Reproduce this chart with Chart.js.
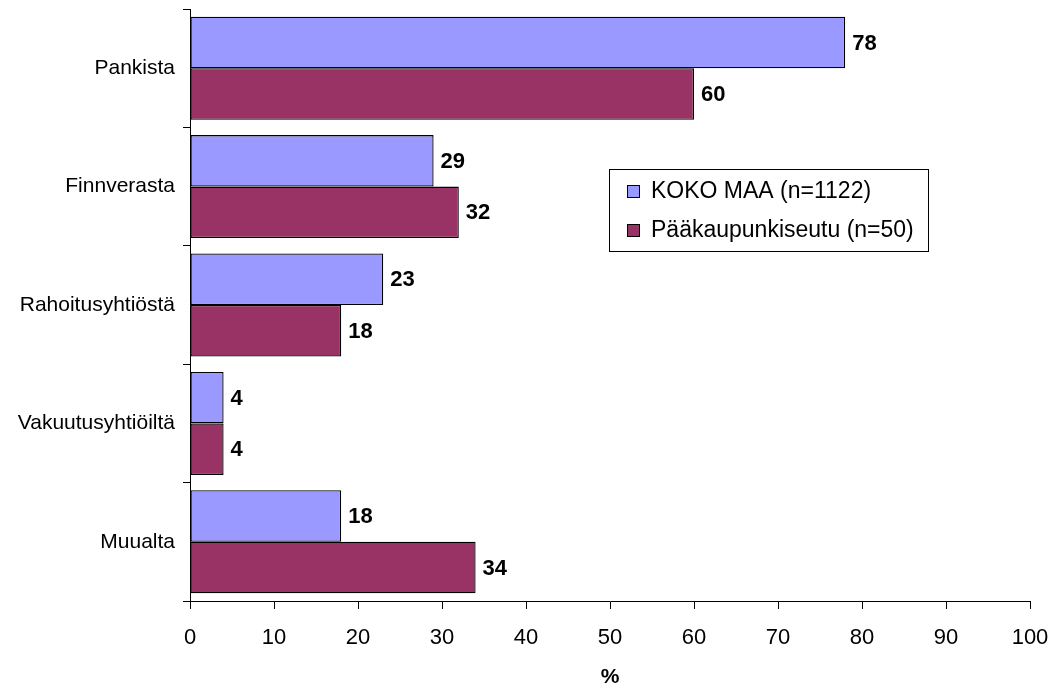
<!DOCTYPE html>
<html>
<head>
<meta charset="utf-8">
<script src="https://cdn.jsdelivr.net/npm/chart.js@4"></script>
<style>
  html, body { margin: 0; padding: 0; background: #fff; }
  #wrap { width: 1059px; height: 694px; }
</style>
</head>
<body>
<div id="wrap"><canvas id="chart"></canvas></div>
<script>
const categories = ["Pankista", "Finnverasta", "Rahoitusyhtiöstä", "Vakuutusyhtiöiltä", "Muualta"];
const kokoMaa = [78, 29, 23, 4, 18];
const paakaupunkiseutu = [60, 32, 18, 4, 34];
const seriesLabels = ["KOKO MAA (n=1122)", "Pääkaupunkiseutu (n=50)"];
const xTicks = [0, 10, 20, 30, 40, 50, 60, 70, 80, 90, 100];

const FONT = "Arial, 'Liberation Sans', sans-serif";

// numbers at the end of each bar
const valueLabels = {
  id: "valueLabels",
  afterDatasetsDraw(chart) {
    const ctx = chart.ctx;
    ctx.save();
    ctx.font = "bold 22px " + FONT;
    ctx.fillStyle = "#000";
    ctx.textAlign = "left";
    ctx.textBaseline = "middle";
    chart.data.datasets.forEach((ds, i) => {
      chart.getDatasetMeta(i).data.forEach((bar, j) => {
        ctx.fillText(ds.data[j], bar.x + 7, bar.y + 1);
      });
    });
    ctx.restore();
  }
};

// legend box inside the plot
const boxLegend = {
  id: "boxLegend",
  afterDraw(chart) {
    const ctx = chart.ctx;
    const x = 609, y = 169, w = 319, h = 82;
    ctx.save();
    ctx.fillStyle = "#fff";
    ctx.fillRect(x, y, w, h);
    ctx.strokeStyle = "#000";
    ctx.lineWidth = 1;
    ctx.strokeRect(x + 0.5, y + 0.5, w, h);
    ctx.font = "23px " + FONT;
    ctx.textBaseline = "middle";
    chart.data.datasets.forEach((ds, i) => {
      const cy = y + 22 + i * 39;
      ctx.fillStyle = ds.backgroundColor;
      ctx.fillRect(x + 18, cy - 6, 12, 12);
      ctx.strokeRect(x + 18.5, cy - 5.5, 12, 12);
      ctx.fillStyle = "#000";
      ctx.fillText(ds.label, x + 42, cy + 1);
    });
    ctx.restore();
  }
};

new Chart(document.getElementById("chart"), {
  type: "bar",
  data: {
    labels: categories,
    datasets: [
      {
        label: seriesLabels[0],
        data: kokoMaa,
        backgroundColor: "#9999FF",
        borderColor: "#000",
        borderWidth: 1.3,
        borderSkipped: false
      },
      {
        label: seriesLabels[1],
        data: paakaupunkiseutu,
        backgroundColor: "#993366",
        borderColor: "#000",
        borderWidth: 1.3,
        borderSkipped: false
      }
    ]
  },
  options: {
    indexAxis: "y",
    responsive: true,
    maintainAspectRatio: false,
    animation: false,
    datasets: { bar: { categoryPercentage: 0.87, barPercentage: 1 } },
    layout: { padding: { top: 9, right: 29, left: 0, bottom: 0 } },
    plugins: {
      legend: { display: false },
      tooltip: { enabled: false }
    },
    scales: {
      y: {
        grid: { offset: true, drawOnChartArea: false, tickLength: 7, color: "#000" },
        border: { color: "#000", width: 1 },
        ticks: { color: "#000", font: { family: FONT, size: 21 }, padding: 8 },
        afterFit(scale) {
          scale.width = 190;
          scale.paddingTop = 0;
          scale.paddingBottom = 0;
        }
      },
      x: {
        min: 0,
        max: 100,
        afterBuildTicks(scale) { scale.ticks = xTicks.map(v => ({ value: v })); },
        grid: { drawOnChartArea: false, tickLength: 8, color: "#000" },
        border: { color: "#000", width: 1 },
        ticks: { color: "#000", font: { family: FONT, size: 22 }, padding: 16 },
        title: {
          display: true,
          text: "%",
          color: "#000",
          font: { family: FONT, size: 21, weight: "bold" },
          padding: { top: 12 }
        },
        afterFit(scale) {
          scale.height = 93;
          scale.paddingLeft = 0;
          scale.paddingRight = 0;
        }
      }
    }
  },
  plugins: [valueLabels, boxLegend]
});
</script>
</body>
</html>
